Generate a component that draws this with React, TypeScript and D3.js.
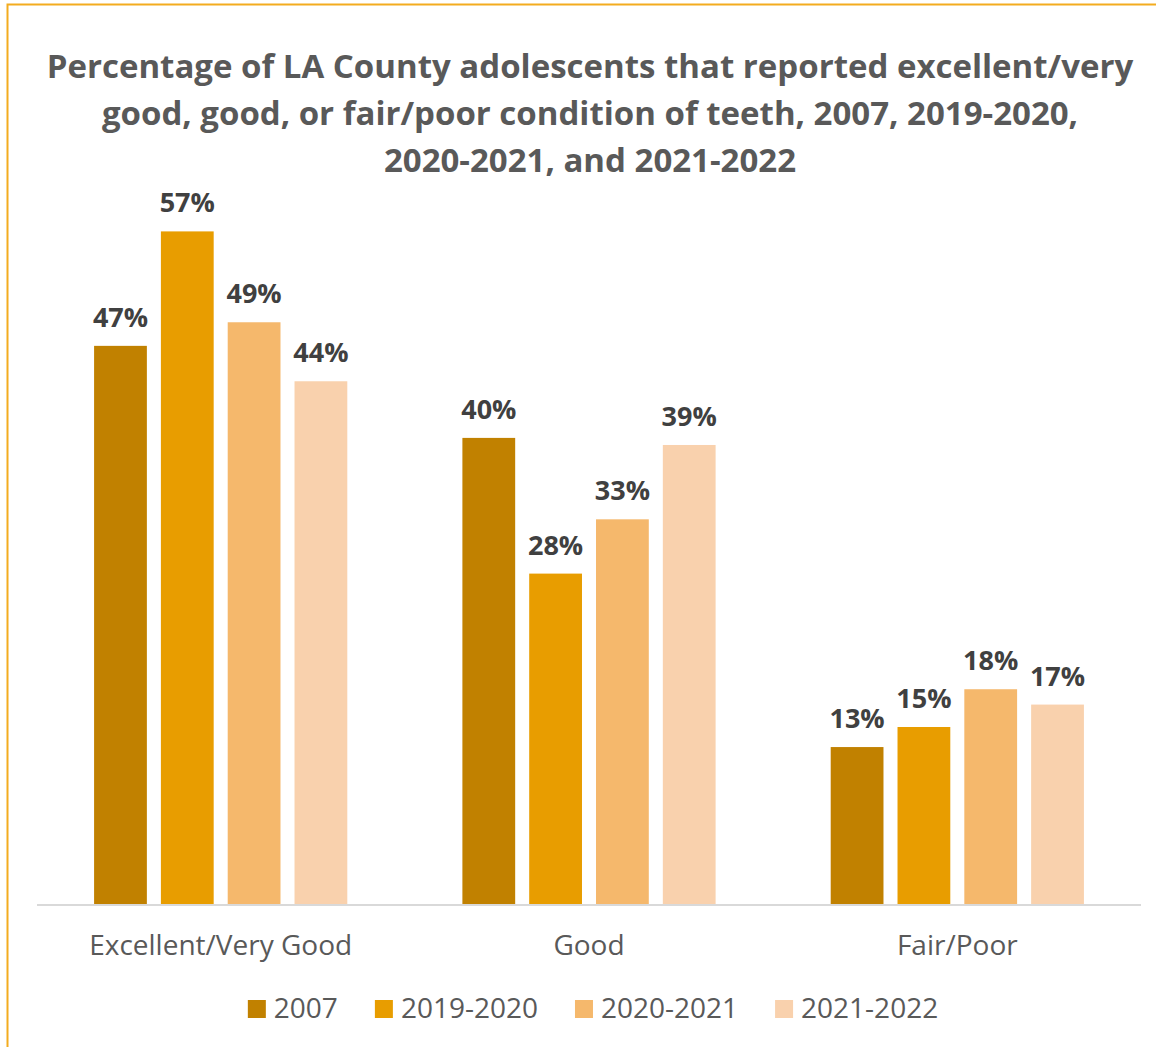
import { useEffect, useRef } from 'react';
import * as d3 from 'd3';

// Chart data
const categories = ["Excellent/Very Good", "Good", "Fair/Poor"];
const seriesNames = ["2007", "2019-2020", "2020-2021", "2021-2022"];
const values2007 = [47.3, 39.5, 13.3];
const values2019 = [57.0, 28.0, 15.0];
const values2020 = [49.3, 32.6, 18.2];
const values2021 = [44.3, 38.9, 16.9];
const seriesValues = [values2007, values2019, values2020, values2021];
const titleLines = [
  "Percentage of LA County adolescents that reported excellent/very",
  "good, good, or fair/poor condition of teeth, 2007, 2019-2020,",
  "2020-2021, and 2021-2022",
];

const COLORS = ["#C18100", "#E89D00", "#F5B86C", "#F9D1AD"];
const BORDER = "#F3AC1F";
const TEXT_DARK = "#404040";
const TEXT_GREY = "#595959";
const FONT = "'Open Sans', sans-serif";

export default function App() {
  const ref = useRef<SVGSVGElement>(null);

  useEffect(() => {
    if (!ref.current) return;
    const width = 1156;
    const height = 1047;
    const svg = d3.select(ref.current);
    svg.selectAll("*").remove();

    svg.append("rect")
      .attr("width", width).attr("height", height).attr("fill", "white");

    // partial frame (top and left edges visible)
    svg.append("path")
      .attr("d", `M7.5,${height} V4.5 H${width}`)
      .attr("fill", "none")
      .attr("stroke", BORDER)
      .attr("stroke-width", 2);

    // title
    const title = svg.append("text")
      .attr("text-anchor", "middle")
      .attr("font-family", FONT)
      .attr("font-weight", "bold")
      .attr("font-size", 33)
      .attr("fill", TEXT_GREY);
    titleLines.forEach((t, i) => {
      title.append("tspan")
        .attr("x", 590)
        .attr("y", 78 + i * 47)
        .text(t);
    });

    const margin = { left: 37, right: 15 };
    const baseY = 904;

    const x0 = d3.scaleBand()
      .domain(categories)
      .range([margin.left, width - margin.right])
      .paddingInner(0.3125)
      .paddingOuter(0.155);

    const x1 = d3.scaleBand()
      .domain(seriesNames)
      .range([0, x0.bandwidth()])
      .paddingInner(0.21);

    const y = d3.scaleLinear()
      .domain([0, 60])
      .range([baseY, 196]);

    const groups = svg.append("g")
      .selectAll("g")
      .data(categories)
      .join("g")
      .attr("transform", (d) => `translate(${x0(d)},0)`);

    groups.selectAll("rect")
      .data((_, ci) => seriesNames.map((s, si) => ({ s, si, v: seriesValues[si][ci] })))
      .join("rect")
      .attr("x", (d) => x1(d.s)!)
      .attr("width", x1.bandwidth())
      .attr("y", (d) => y(d.v))
      .attr("height", (d) => baseY - y(d.v))
      .attr("fill", (d) => COLORS[d.si]);

    groups.selectAll("text.lbl")
      .data((_, ci) => seriesNames.map((s, si) => ({ s, si, v: seriesValues[si][ci] })))
      .join("text")
      .attr("class", "lbl")
      .attr("x", (d) => x1(d.s)! + x1.bandwidth() / 2)
      .attr("y", (d) => y(d.v) - 19)
      .attr("text-anchor", "middle")
      .attr("font-family", FONT)
      .attr("font-weight", "bold")
      .attr("font-size", 27)
      .attr("fill", TEXT_DARK)
      .text((d) => `${Math.round(d.v)}%`);

    // baseline axis
    svg.append("line")
      .attr("x1", margin.left).attr("x2", width - margin.right)
      .attr("y1", baseY + 1).attr("y2", baseY + 1)
      .attr("stroke", "#D9D9D9")
      .attr("stroke-width", 2);

    svg.append("g")
      .selectAll("text")
      .data(categories)
      .join("text")
      .attr("x", (d) => x0(d)! + x0.bandwidth() / 2)
      .attr("y", 955)
      .attr("text-anchor", "middle")
      .attr("font-family", FONT)
      .attr("font-size", 28)
      .attr("fill", TEXT_GREY)
      .text((d) => d);

    // legend
    const legend = svg.append("g");
    const sq = 18;
    const gapText = 8;
    const gapItem = 37;
    let cx = 0;
    seriesNames.forEach((name, i) => {
      const g = legend.append("g").attr("transform", `translate(${cx},0)`);
      g.append("rect")
        .attr("x", 0).attr("y", -sq)
        .attr("width", sq).attr("height", sq)
        .attr("fill", COLORS[i]);
      const t = g.append("text")
        .attr("x", sq + gapText)
        .attr("y", 0)
        .attr("font-family", FONT)
        .attr("font-size", 28)
        .attr("fill", TEXT_GREY)
        .text(name);
      const w = (t.node() as SVGTextElement).getComputedTextLength();
      cx += sq + gapText + w + gapItem;
    });
    const total = cx - gapItem;
    legend.attr("transform", `translate(${593 - total / 2},1018)`);
  }, []);

  return (
    <svg
      ref={ref}
      width={1156}
      height={1047}
      style={{ position: 'absolute', left: 0, top: 0, display: 'block' }}
    />
  );
}
